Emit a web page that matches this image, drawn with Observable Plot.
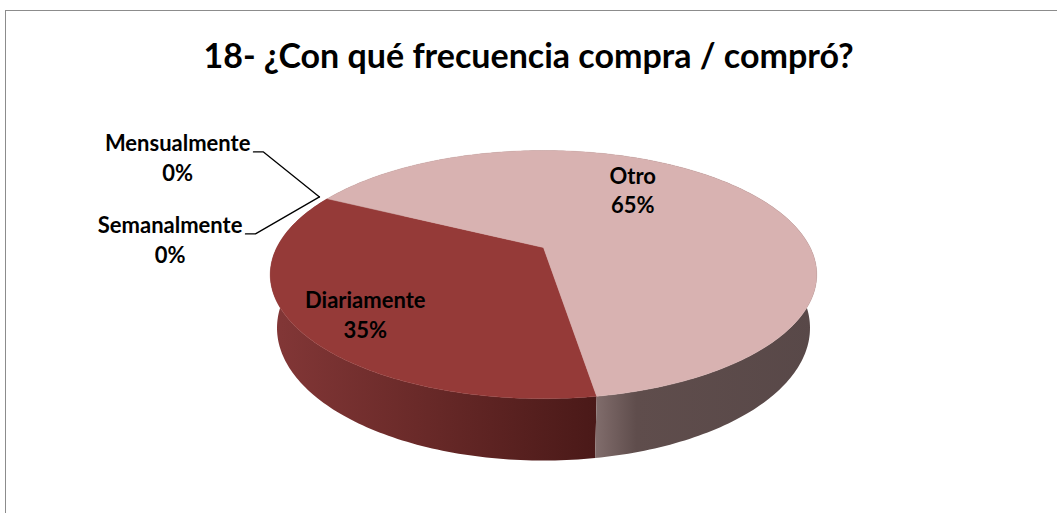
<!DOCTYPE html>
<html><head><meta charset="utf-8">
<script src="https://cdn.jsdelivr.net/npm/d3@7"></script>
<script src="https://cdn.jsdelivr.net/npm/@observablehq/plot@0.6"></script>
<style>
html,body{margin:0;padding:0;background:#fff;overflow:hidden;}
#wrap{position:relative;width:1057px;height:513px;overflow:hidden;font-family:Lato,"Open Sans",sans-serif;}
#frame{position:absolute;left:5px;top:10px;width:1100px;height:600px;border:1px solid #8c8c8c;box-sizing:border-box;}
#title{position:absolute;left:0;width:1057px;top:35px;text-align:center;font-weight:700;font-size:34px;line-height:40px;color:#000;margin:0;font-family:Lato,"Open Sans",sans-serif;}
#chart{position:absolute;left:0;top:100px;}
</style></head><body>
<div id="wrap"><div id="frame"></div><h1 id="title">18- ¿Con qué frecuencia compra / compró?</h1><div id="chart"></div></div>
<script>
// ---- data ----
const categories = ["Diariamente", "Semanalmente", "Mensualmente", "Otro"];
const values = [35, 0, 0, 65];
const percentLabels = ["35%", "0%", "0%", "65%"];

// ---- layout / style ----
const W = 1057, H = 413;
const view = {cx: 543, cy: 147, f: 1096, tilt: 26.3 * Math.PI / 180, dist: 4.11, thick: 0.224, startDeg: 171};
const topColors = {Diariamente: "#953a38", Semanalmente: "#953a38", Mensualmente: "#953a38", Otro: "#d8b2b1"};
const sideStops = {
  Diariamente: [[0, "#833737"], [0.45, "#6a2a29"], [1, "#4a1918"]],
  Otro: [[0, "#806c6b"], [0.18, "#5f4d4c"], [1, "#584848"]]
};
const insideNudge = {Diariamente: [-38, 21], Otro: [-31, -20]};
const outsideElbow = {Semanalmente: [-64, 37], Mensualmente: [-56, -45]};
const fontSize = 22, lineH = 29.5;

function project(phiDeg, r, h) {
  const p = phiDeg * Math.PI / 180;
  const x = r * Math.sin(p), z = -r * Math.cos(p);
  const s = Math.sin(view.tilt), c = Math.cos(view.tilt);
  const depth = view.dist - z * c - h * s;
  return [view.cx + view.f * x / depth, view.cy + view.f * (z * s - h * c) / depth];
}

const total = d3.sum(values);
let acc = view.startDeg;
const slices = categories.map((name, i) => {
  const a0 = acc, a1 = acc + values[i] / total * 360;
  acc = a1;
  return {name, value: values[i], label: percentLabels[i], a0, a1, mid: (a0 + a1) / 2};
});

function arcPts(a0, a1, r, h) {
  const n = Math.max(2, Math.ceil(Math.abs(a1 - a0)));
  return d3.range(n + 1).map(k => project(a0 + (a1 - a0) * k / n, r, h));
}

const sideRows = [], topRows = [];
const gradExtents = {};
for (const s of slices) {
  if (s.value <= 0) continue;
  const topArc = arcPts(s.a0, s.a1, 1, 0);
  const botArc = arcPts(s.a0, s.a1, 1, -view.thick).reverse();
  [...topArc, ...botArc, topArc[0]].forEach(([x, y]) => sideRows.push({name: s.name, x, y}));
  [[view.cx, view.cy], ...topArc, [view.cx, view.cy]].forEach(([x, y]) => topRows.push({name: s.name, x, y}));
  const front = d3.range(s.a0, s.a1 + 0.5, 1).filter(a => -Math.cos(a * Math.PI / 180) > -0.25).map(a => project(a, 1, 0)[0]);
  gradExtents[s.name] = d3.extent(front.length ? front : topArc.map(d => d[0]));
}

// labels
const textRows = [], leaderRows = [];
const ctx = document.createElement("canvas").getContext("2d");
ctx.font = `700 ${fontSize}px Lato`;
for (const s of slices) {
  if (s.value > 0) {
    const [x, y] = project(s.mid, 0.6, 0);
    const [dx, dy] = insideNudge[s.name];
    textRows.push({x: x + dx, y: y + dy, text: `${s.name}\n${s.label}`});
  } else {
    const rim = project(s.a0, 1.04, 0);
    const [ex, ey] = outsideElbow[s.name];
    const elbow = [rim[0] + ex, rim[1] + ey];
    const end = [elbow[0] - 10, elbow[1]];
    [end, elbow, rim].forEach(([x, y]) => leaderRows.push({name: s.name, x, y}));
    const w = ctx.measureText(s.name).width;
    textRows.push({x: end[0] - 3 - w / 2, y: end[1] - 10 + lineH / 2, text: `${s.name}\n${s.label}`});
  }
}

const sideMarks = Object.keys(gradExtents).map(name =>
  Plot.line(sideRows.filter(d => d.name === name), {x: "x", y: "y", fill: `url(#side-${name})`, stroke: "none", curve: "linear"}));
const topMarks = Object.keys(gradExtents).map(name =>
  Plot.line(topRows.filter(d => d.name === name), {x: "x", y: "y", fill: topColors[name], stroke: topColors[name], strokeWidth: 0.5, curve: "linear"}));

const chart = Plot.plot({
  width: W, height: H,
  margin: 0,
  x: {domain: [0, W], range: [0, W], axis: null},
  y: {domain: [0, H], range: [0, H], axis: null},
  style: {background: "transparent", overflow: "visible"},
  marks: [
    ...sideMarks,
    ...topMarks,
    Plot.line(leaderRows, {x: "x", y: "y", z: "name", stroke: "#000", strokeWidth: 1.3}),
    Plot.text(textRows, {x: "x", y: "y", text: "text", fontSize, fontWeight: 700, fill: "#000",
      fontFamily: "Lato, 'Open Sans', sans-serif", lineHeight: lineH / fontSize, textAnchor: "middle"})
  ]
});

const defs = d3.select(chart).insert("defs", ":first-child");
for (const [name, [x1, x2]] of Object.entries(gradExtents)) {
  const g = defs.append("linearGradient").attr("id", `side-${name}`).attr("gradientUnits", "userSpaceOnUse")
    .attr("x1", x1).attr("x2", x2).attr("y1", 0).attr("y2", 0);
  for (const [o, c] of sideStops[name]) g.append("stop").attr("offset", o).attr("stop-color", c);
}
document.getElementById("chart").appendChild(chart);
</script>
</body></html>
